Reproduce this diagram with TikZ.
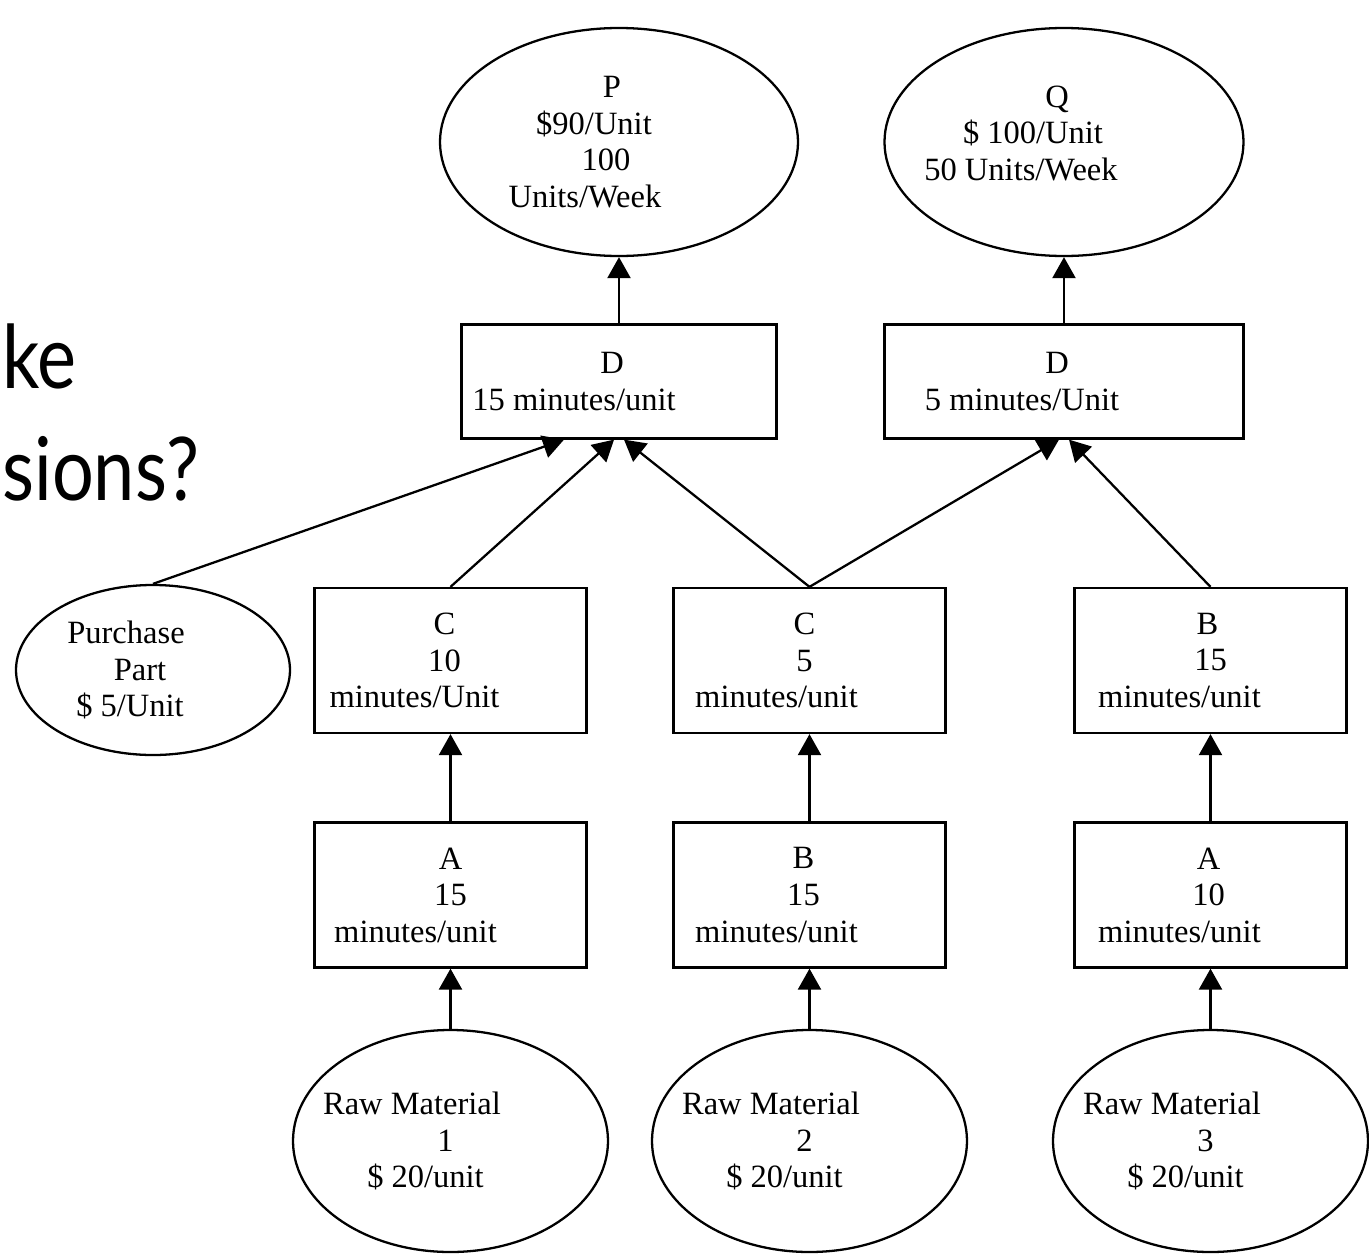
\documentclass[tikz,border=0pt]{standalone}
\usepackage{fontspec}
\setmainfont{Liberation Serif}
\newfontfamily\slidefont{Lato}
\usetikzlibrary{arrows.meta,shapes.geometric}
\newcommand{\nudge}[1]{\hspace*{-#1}}
\newcommand{\narrow}[1]{\scalebox{0.84}[1]{#1}}

\begin{document}
\begin{tikzpicture}[
  every node/.style={font=\fontsize{18.5}{20.8}\selectfont, align=center, inner sep=0pt},
  stagebox/.style={draw, line width=1.3pt, rectangle, minimum width=5.44cm, minimum height=2.9cm},
  endbox/.style={draw, line width=1.3pt, ellipse},
  flow/.style={line width=1.3pt, -{Triangle[length=0.42cm,width=0.46cm]}},
  slidetext/.style={font=\slidefont\fontsize{50}{60}\selectfont, anchor=base west}]
\useasboundingbox (0,0) rectangle (27.38,-25.08);
% slide title, cut off at the left
\node[slidetext] (title1) at (0.04,-7.76) {\narrow{ke}};
\node[slidetext] (title2) at (0.04,-10.0) {\narrow{sions?}};
% products
\node[endbox, minimum width=7.16cm, minimum height=4.56cm] (p) at (12.38,-2.84)
  {\nudge{0.28cm}P\\\nudge{1cm}\$90/Unit\\\nudge{0.52cm}100\\\nudge{1.36cm}Units/Week};
\node[endbox, minimum width=7.18cm, minimum height=4.56cm, text depth=0.36cm] (q) at (21.28,-2.84)
  {\nudge{0.28cm}Q\\\nudge{1.24cm}\$ 100/Unit\\\nudge{1.72cm}50 Units/Week};
% final operations
\node[stagebox, minimum width=6.3cm, minimum height=2.28cm] (d1) at (12.38,-7.63)
  {\nudge{0.28cm}D\\\nudge{1.8cm}15 minutes/unit};
\node[stagebox, minimum width=7.18cm, minimum height=2.28cm] (d2) at (21.28,-7.63)
  {\nudge{0.28cm}D\\\nudge{1.68cm}5 minutes/Unit};
% second operations
\node[endbox, minimum width=5.48cm, minimum height=3.4cm] (part) at (3.06,-13.4)
  {\nudge{1.08cm}Purchase\\\nudge{0.52cm}Part\\\nudge{0.92cm}\$ 5/Unit};
\node[stagebox] (c1) at (9.01,-13.21) {\nudge{0.24cm}C\\\nudge{0.24cm}10\\\nudge{1.44cm}minutes/Unit};
\node[stagebox] (c2) at (16.19,-13.21) {\nudge{0.2cm}C\\\nudge{0.2cm}5\\\nudge{1.32cm}minutes/unit};
\node[stagebox] (b1) at (24.21,-13.21) {\nudge{0.12cm}B\\15\\\nudge{1.24cm}minutes/unit};
% first operations
\node[stagebox] (a1) at (9.01,-17.9) {A\\15\\\nudge{1.4cm}minutes/unit};
\node[stagebox] (b2) at (16.19,-17.9) {\nudge{0.24cm}B\\\nudge{0.24cm}15\\\nudge{1.32cm}minutes/unit};
\node[stagebox] (a2) at (24.21,-17.9) {\nudge{0.08cm}A\\\nudge{0.08cm}10\\\nudge{1.24cm}minutes/unit};
% raw materials
\node[endbox, minimum width=6.3cm, minimum height=4.44cm] (rm1) at (9.01,-22.82)
  {\nudge{1.54cm}Raw Material\\\nudge{0.2cm}1\\\nudge{1cm}\$ 20/unit};
\node[endbox, minimum width=6.3cm, minimum height=4.44cm] (rm2) at (16.19,-22.82)
  {\nudge{1.54cm}Raw Material\\\nudge{0.2cm}2\\\nudge{1cm}\$ 20/unit};
\node[endbox, minimum width=6.3cm, minimum height=4.44cm] (rm3) at (24.21,-22.82)
  {\nudge{1.54cm}Raw Material\\\nudge{0.2cm}3\\\nudge{1cm}\$ 20/unit};
% draw the arrows
\draw[flow] (rm1) -- (a1);
\draw[flow] (rm2) -- (b2);
\draw[flow] (rm3) -- (a2);
\draw[flow] (a1) -- (c1);
\draw[flow] (b2) -- (c2);
\draw[flow] (a2) -- (b1);
\draw[flow] (part.north) -- ([xshift=-1.1cm]d1.south);
\draw[flow] (c1.north) -- ([xshift=-0.1cm]d1.south);
\draw[flow] (c2.north) -- ([xshift=0.1cm]d1.south);
\draw[flow] (c2.north) -- ([xshift=-0.1cm]d2.south);
\draw[flow] (b1.north) -- ([xshift=0.1cm]d2.south);
\draw[flow] (d1) -- (p);
\draw[flow] (d2) -- (q);
\end{tikzpicture}
\end{document}
